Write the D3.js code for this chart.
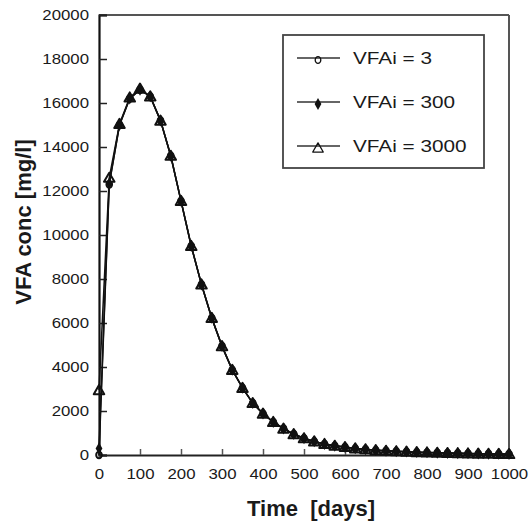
<!DOCTYPE html>
<html>
<head>
<meta charset="utf-8">
<script src="https://cdn.jsdelivr.net/npm/d3@7"></script>
<style>
  body { margin: 0; background: #fff; }
  text { font-family: "Liberation Sans", Arial, sans-serif; fill: #1a1a1a; }
</style>
</head>
<body>
<div id="chart"></div>
<script>
// time points, every 25 days
var days = [0, 25, 50, 75, 100, 125, 150, 175, 200, 225, 250, 275, 300, 325, 350, 375, 400,
            425, 450, 475, 500, 525, 550, 575, 600, 625, 650, 675, 700, 725, 750, 775, 800,
            825, 850, 875, 900, 925, 950, 975, 1000];

// VFA concentration [mg/l] for each initial value
var vfa3 = [3, 12300, 15000, 16200, 16600, 16300, 15200, 13600, 11550, 9500, 7750, 6230, 4950,
            3870, 3050, 2360, 1880, 1500, 1200, 950, 760, 620, 500, 420, 360, 300, 260, 220,
            190, 170, 150, 130, 115, 100, 90, 80, 70, 60, 55, 50, 45];
var vfa300 = [300, 12350, 15000, 16200, 16600, 16300, 15200, 13600, 11550, 9500, 7750, 6230, 4950,
              3870, 3050, 2360, 1880, 1500, 1200, 950, 760, 620, 500, 420, 360, 300, 260, 220,
              190, 170, 150, 130, 115, 100, 90, 80, 70, 60, 55, 50, 45];
var vfa3000 = [2950, 12600, 15050, 16250, 16650, 16300, 15200, 13600, 11550, 9500, 7750, 6230, 4950,
               3870, 3050, 2360, 1880, 1500, 1200, 950, 760, 620, 500, 420, 360, 300, 260, 220,
               190, 170, 150, 130, 115, 100, 90, 80, 70, 60, 55, 50, 45];

var seriesNames = ["VFAi = 3", "VFAi = 300", "VFAi = 3000"];
var xTicks = [0, 100, 200, 300, 400, 500, 600, 700, 800, 900, 1000];
var yTicks = [0, 2000, 4000, 6000, 8000, 10000, 12000, 14000, 16000, 18000, 20000];

const width = 529;
const height = 524;
const margin = {top: 15, right: 20, bottom: 69, left: 99};

const svg = d3.select("#chart")
              .append("svg")
              .attr("width", width)
              .attr("height", height);

const x = d3.scaleLinear().domain([0, 1000]).range([margin.left, width - margin.right]);
const y = d3.scaleLinear().domain([0, 20000]).range([height - margin.bottom, margin.top]);

// stretch text a bit wider, like the original picture
function widen(sel, k) {
  sel.each(function() {
    var w = this.getComputedTextLength();
    d3.select(this).attr("textLength", w * k).attr("lengthAdjust", "spacingAndGlyphs");
  });
}

// frame: top and right in grey
svg.append("line")
   .attr("x1", x(0)).attr("x2", x(1000))
   .attr("y1", y(20000)).attr("y2", y(20000))
   .attr("stroke", "#555").attr("stroke-width", 2);
svg.append("line")
   .attr("x1", x(1000)).attr("x2", x(1000))
   .attr("y1", y(20000)).attr("y2", y(0))
   .attr("stroke", "#555").attr("stroke-width", 2);

// x axis
const xAxis = svg.append("g")
   .attr("transform", "translate(0," + y(0) + ")")
   .call(d3.axisBottom(x).tickValues(xTicks).tickSize(-6).tickPadding(14).tickFormat(d3.format("d")));
xAxis.select(".domain").attr("stroke", "#222").attr("stroke-width", 2);
xAxis.selectAll(".tick line").attr("stroke", "#555").attr("stroke-width", 1.5);
xAxis.selectAll(".tick text").attr("font-size", 14).attr("font-family", "Liberation Sans, Arial").attr("fill", "#1a1a1a")
     .call(widen, 1.2);

// y axis
const yAxis = svg.append("g")
   .attr("transform", "translate(" + x(0) + ",0)")
   .call(d3.axisLeft(y).tickValues(yTicks).tickSize(-8).tickPadding(10).tickFormat(d3.format("d")));
yAxis.select(".domain").attr("stroke", "#111").attr("stroke-width", 2.2);
yAxis.selectAll(".tick line").attr("stroke", "#222").attr("stroke-width", 1.5);
yAxis.selectAll(".tick text").attr("font-size", 14).attr("font-family", "Liberation Sans, Arial").attr("fill", "#1a1a1a")
     .call(widen, 1.2);

// axis titles
svg.append("text")
   .attr("x", 311).attr("y", 516)
   .attr("text-anchor", "middle")
   .attr("font-size", 22).attr("font-weight", "bold")
   .attr("xml:space", "preserve")
   .text("Time  [days]");

svg.append("text")
   .attr("transform", "translate(31,222) rotate(-90)")
   .attr("text-anchor", "middle")
   .attr("font-size", 22).attr("font-weight", "bold")
   .text("VFA conc [mg/l]");

// series
var series = [vfa3, vfa300, vfa3000].map(function(vals, i) {
  return {name: seriesNames[i], points: days.map(function(d, j) { return {t: d, v: vals[j]}; })};
});

const line = d3.line().x(function(d) { return x(d.t); }).y(function(d) { return y(d.v); });

svg.selectAll(".series-line")
   .data(series)
   .enter()
   .append("path")
   .attr("class", "series-line")
   .attr("d", function(d) { return line(d.points); })
   .attr("fill", "none")
   .attr("stroke", "#111")
   .attr("stroke-width", 1.5);

const triangle = d3.symbol().type(d3.symbolTriangle).size(48);
const diamond = d3.symbol().type(d3.symbolDiamond).size(40);

function drawMarker(g, i, sw) {
  if (i === 0) {
    g.append("ellipse").attr("rx", 2.8).attr("ry", 3.3)
     .attr("fill", "none").attr("stroke", "#111").attr("stroke-width", sw);
  } else if (i === 1) {
    g.append("path").attr("d", diamond).attr("fill", "#111");
  } else {
    g.append("path").attr("d", triangle).attr("transform", "translate(0,1)")
     .attr("fill", "none").attr("stroke", "#111").attr("stroke-width", sw)
     .attr("stroke-linejoin", "round");
  }
}

// markers: triangles first, then diamonds, then circles
[2, 1, 0].forEach(function(i) {
  svg.append("g")
     .selectAll("g")
     .data(series[i].points)
     .enter()
     .append("g")
     .attr("transform", function(d) { return "translate(" + x(d.t) + "," + y(d.v) + ")"; })
     .each(function() { drawMarker(d3.select(this), i, 2); });
});

// legend
const legend = svg.append("g");
legend.append("rect")
      .attr("x", 283).attr("y", 35).attr("width", 201).attr("height", 133)
      .attr("fill", "#fff").attr("stroke", "#444").attr("stroke-width", 1.8);

const legendY = d3.scalePoint().domain(seriesNames).range([58, 146]);

seriesNames.forEach(function(name, i) {
  var ly = legendY(name);
  legend.append("line")
        .attr("x1", 297).attr("x2", 340).attr("y1", ly).attr("y2", ly)
        .attr("stroke", "#666").attr("stroke-width", 2);
  drawMarker(legend.append("g").attr("transform", "translate(318," + (ly + 2) + ")"), i, 1.3);
  legend.append("text")
        .attr("x", 353).attr("y", ly + 6)
        .attr("font-size", 17)
        .text(name)
        .call(widen, 1.22);
});
</script>
</body>
</html>
